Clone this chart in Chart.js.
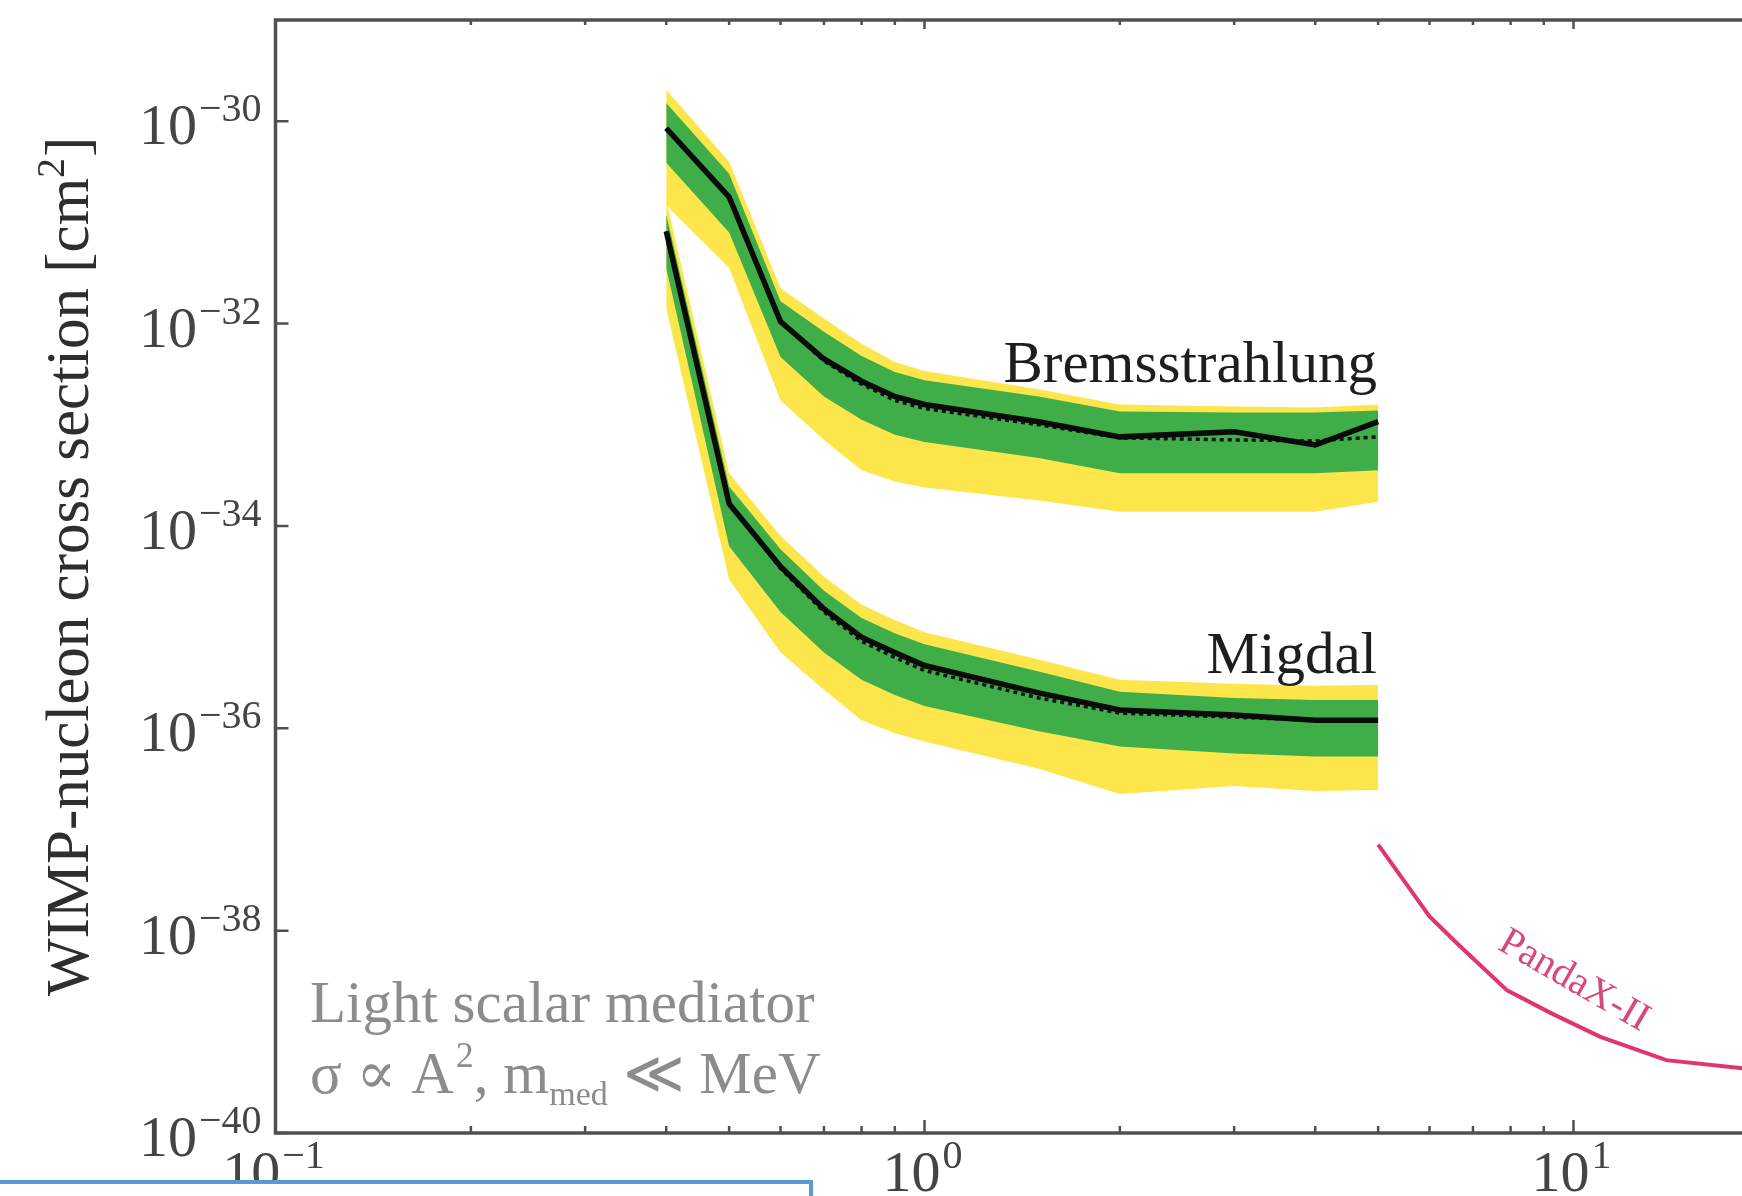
<!DOCTYPE html>
<html>
<head>
<meta charset="utf-8">
<script src="https://cdn.jsdelivr.net/npm/chart.js@4.4.1/dist/chart.umd.min.js"></script>
<style>
  html, body { margin: 0; padding: 0; background: #fff; overflow: hidden; }
  #wrap { position: relative; width: 1950px; height: 1196px; }
  #clipBox { position: absolute; left: -4px; top: 1180px; width: 817px; height: 40px;
             border: 4px solid #5b9bd5; background: #fff; box-sizing: border-box; }
</style>
</head>
<body>
<div id="wrap"><canvas id="chartLimits"></canvas></div>
<div id="clipBox"></div>
<script>
// WIMP mass [GeV] of the computed limits
const massGeV = [0.4, 0.5, 0.6, 0.7, 0.8, 0.9, 1, 1.5, 2, 3, 4, 5];

// all cross sections below are log10(sigma / cm^2)
const bremsObserved = [-30.07, -30.75, -31.98, -32.35, -32.57, -32.72, -32.80, -32.97, -33.12, -33.07, -33.20, -32.97];
const bremsExpected = [-30.07, -30.75, -31.98, -32.37, -32.60, -32.76, -32.84, -33.00, -33.13, -33.15, -33.16, -33.12];
const bremsYellowHi = [-29.69, -30.40, -31.65, -31.95, -32.20, -32.38, -32.47, -32.65, -32.80, -32.82, -32.83, -32.80];
const bremsGreenHi  = [-29.82, -30.52, -31.78, -32.08, -32.32, -32.48, -32.56, -32.72, -32.87, -32.88, -32.88, -32.86];
const bremsGreenLo  = [-30.41, -31.10, -32.33, -32.72, -32.95, -33.10, -33.17, -33.33, -33.48, -33.48, -33.48, -33.45];
const bremsYellowLo = [-30.83, -31.45, -32.76, -33.15, -33.45, -33.56, -33.62, -33.75, -33.86, -33.86, -33.86, -33.76];

const migdalObserved = [-31.09, -33.78, -34.40, -34.82, -35.10, -35.25, -35.38, -35.65, -35.82, -35.87, -35.92, -35.92];
const migdalExpected = [-31.09, -33.78, -34.42, -34.85, -35.14, -35.30, -35.43, -35.70, -35.85, -35.89, -35.92, -35.92];
const migdalYellowHi = [-30.78, -33.48, -34.10, -34.50, -34.78, -34.93, -35.05, -35.32, -35.52, -35.56, -35.58, -35.57];
const migdalGreenHi  = [-30.92, -33.61, -34.23, -34.64, -34.91, -35.06, -35.17, -35.44, -35.64, -35.70, -35.72, -35.72];
const migdalGreenLo  = [-31.45, -34.20, -34.85, -35.25, -35.52, -35.67, -35.78, -36.03, -36.18, -36.25, -36.28, -36.28];
const migdalYellowLo = [-31.85, -34.53, -35.25, -35.62, -35.92, -36.05, -36.13, -36.40, -36.65, -36.57, -36.62, -36.61];

const pandaxMass  = [5, 6, 6.6, 7.9, 9.2, 11, 13.9, 18.2, 22];
const pandaxLimit = [-37.15, -37.86, -38.12, -38.59, -38.81, -39.05, -39.28, -39.36, -39.40];

const xTickExps = [-1, 0, 1];
const yTickExps = [-40, -38, -36, -34, -32, -30];

const SERIF = '"Liberation Serif", "DejaVu Serif", serif';
const YELLOW = '#fde64b';
const GREEN = '#3fae49';

function pts(xs, logs) {
  return xs.map((m, i) => ({ x: m, y: Math.pow(10, logs[i]) }));
}

function band(logs, color, fillTo, order) {
  return {
    data: pts(massGeV, logs),
    borderWidth: 0,
    borderColor: 'rgba(0,0,0,0)',
    backgroundColor: color,
    pointRadius: 0,
    fill: fillTo,
    order: order
  };
}

function limitLine(xs, logs, color, width, dash, order) {
  return {
    data: pts(xs, logs),
    borderColor: color,
    borderWidth: width,
    borderDash: dash,
    pointRadius: 0,
    fill: false,
    tension: 0,
    order: order
  };
}

// draw "10" with a raised exponent; align = 'right' or 'center'
function drawPower(ctx, exp, x, baseY, align) {
  const base = '10';
  const sup = (exp < 0 ? '\u2212' : '') + Math.abs(exp);
  ctx.font = '58px ' + SERIF;
  const wb = ctx.measureText(base).width;
  ctx.font = '40px ' + SERIF;
  const ws = ctx.measureText(sup).width;
  const total = wb + 2 + ws;
  const left = align === 'right' ? x - total : x - total / 2;
  ctx.textAlign = 'left';
  ctx.textBaseline = 'alphabetic';
  ctx.font = '58px ' + SERIF;
  ctx.fillText(base, left, baseY);
  ctx.font = '40px ' + SERIF;
  ctx.fillText(sup, left + wb + 2, baseY - 23);
}

const framePlugin = {
  id: 'framePlugin',
  afterDraw(chart) {
    const { ctx, chartArea: a, scales: { x, y } } = chart;
    ctx.save();

    // axes frame (right side is off screen)
    ctx.strokeStyle = '#505050';
    ctx.lineWidth = 3.5;
    ctx.beginPath();
    ctx.moveTo(a.right, a.top);
    ctx.lineTo(a.left, a.top);
    ctx.lineTo(a.left, a.bottom);
    ctx.lineTo(a.right, a.bottom);
    ctx.stroke();

    // inward ticks
    ctx.lineWidth = 2.5;
    ctx.beginPath();
    for (let e = -1; e <= 1; e++) {
      for (let k = 1; k <= 9; k++) {
        const v = k * Math.pow(10, e);
        if (v > x.max) break;
        const px = x.getPixelForValue(v);
        const len = k === 1 ? 13 : 7;
        ctx.moveTo(px, a.bottom); ctx.lineTo(px, a.bottom - len);
        ctx.moveTo(px, a.top); ctx.lineTo(px, a.top + (k === 1 ? 9 : 5));
      }
    }
    yTickExps.forEach(e => {
      const py = y.getPixelForValue(Math.pow(10, e));
      ctx.moveTo(a.left, py); ctx.lineTo(a.left + 13, py);
    });
    ctx.stroke();

    // tick labels
    ctx.fillStyle = '#444';
    yTickExps.forEach(e => {
      const py = y.getPixelForValue(Math.pow(10, e));
      drawPower(ctx, e, a.left - 14, py + 23, 'right');
    });
    xTickExps.forEach(e => {
      const px = x.getPixelForValue(Math.pow(10, e));
      drawPower(ctx, e, px - 2, a.bottom + 58, 'center');
    });

    // y axis title
    ctx.save();
    ctx.translate(88, 575);
    ctx.rotate(-Math.PI / 2);
    ctx.fillStyle = '#2e2e2e';
    ctx.font = '61px ' + SERIF;
    ctx.textAlign = 'center';
    ctx.textBaseline = 'alphabetic';
    ctx.fillText('WIMP-nucleon cross section [cm', -12, 0);
    const wT = ctx.measureText('WIMP-nucleon cross section [cm').width;
    ctx.font = '40px ' + SERIF;
    ctx.textAlign = 'left';
    ctx.fillText('2', -12 + wT / 2, -24);
    const w2 = ctx.measureText('2').width;
    ctx.font = '61px ' + SERIF;
    ctx.fillText(']', -12 + wT / 2 + w2 + 1, 0);
    ctx.restore();

    // curve labels
    ctx.fillStyle = '#1e1e1e';
    ctx.font = '59px ' + SERIF;
    ctx.textAlign = 'right';
    ctx.fillText('Bremsstrahlung', 1377, 382);
    ctx.fillText('Migdal', 1377, 673);

    // model note
    ctx.fillStyle = '#8c8c8c';
    ctx.textAlign = 'left';
    ctx.font = '59px ' + SERIF;
    ctx.fillText('Light scalar mediator', 310, 1022);
    let cx = 310;
    const piece = (txt, size, dy) => {
      ctx.font = size + 'px ' + SERIF;
      ctx.fillText(txt, cx, 1093 + dy);
      cx += ctx.measureText(txt).width;
    };
    piece('\u03c3 \u221d A', 59, 0);
    cx += 2;
    piece('2', 36, -26);
    piece(', m', 59, 0);
    piece('med', 34, 12);
    piece(' \u226a MeV', 59, 0);

    // PandaX-II label along its curve
    ctx.save();
    ctx.translate(1574, 981);
    ctx.rotate(30 * Math.PI / 180);
    ctx.fillStyle = '#d9487a';
    ctx.font = '40px ' + SERIF;
    ctx.textAlign = 'center';
    ctx.textBaseline = 'middle';
    ctx.fillText('PandaX-II', 0, 0);
    ctx.restore();

    ctx.restore();
  }
};

new Chart(document.getElementById('chartLimits'), {
  type: 'line',
  data: {
    datasets: [
      band(bremsYellowHi, YELLOW, 1, 6),
      band(bremsYellowLo, 'rgba(0,0,0,0)', false, 6),
      band(bremsGreenHi, GREEN, 3, 5),
      band(bremsGreenLo, 'rgba(0,0,0,0)', false, 5),
      band(migdalYellowHi, YELLOW, 5, 6),
      band(migdalYellowLo, 'rgba(0,0,0,0)', false, 6),
      band(migdalGreenHi, GREEN, 7, 5),
      band(migdalGreenLo, 'rgba(0,0,0,0)', false, 5),
      limitLine(massGeV, bremsExpected, '#111', 3.5, [4, 4], 2),
      limitLine(massGeV, bremsObserved, '#0a0a0a', 5.5, [], 1),
      limitLine(massGeV, migdalExpected, '#111', 3.5, [4, 4], 2),
      limitLine(massGeV, migdalObserved, '#0a0a0a', 5.5, [], 1),
      limitLine(pandaxMass, pandaxLimit, '#e0356e', 4, [], 1)
    ]
  },
  options: {
    responsive: true,
    maintainAspectRatio: false,
    animation: false,
    layout: { padding: { left: 275.5, top: 20, right: 52, bottom: 63 } },
    plugins: {
      legend: { display: false },
      tooltip: { enabled: false }
    },
    scales: {
      x: { type: 'logarithmic', min: 0.1, max: Math.pow(10, 1.5), display: false },
      y: { type: 'logarithmic', min: 1e-40, max: 1e-29, display: false }
    }
  },
  plugins: [framePlugin]
});
</script>
</body>
</html>
